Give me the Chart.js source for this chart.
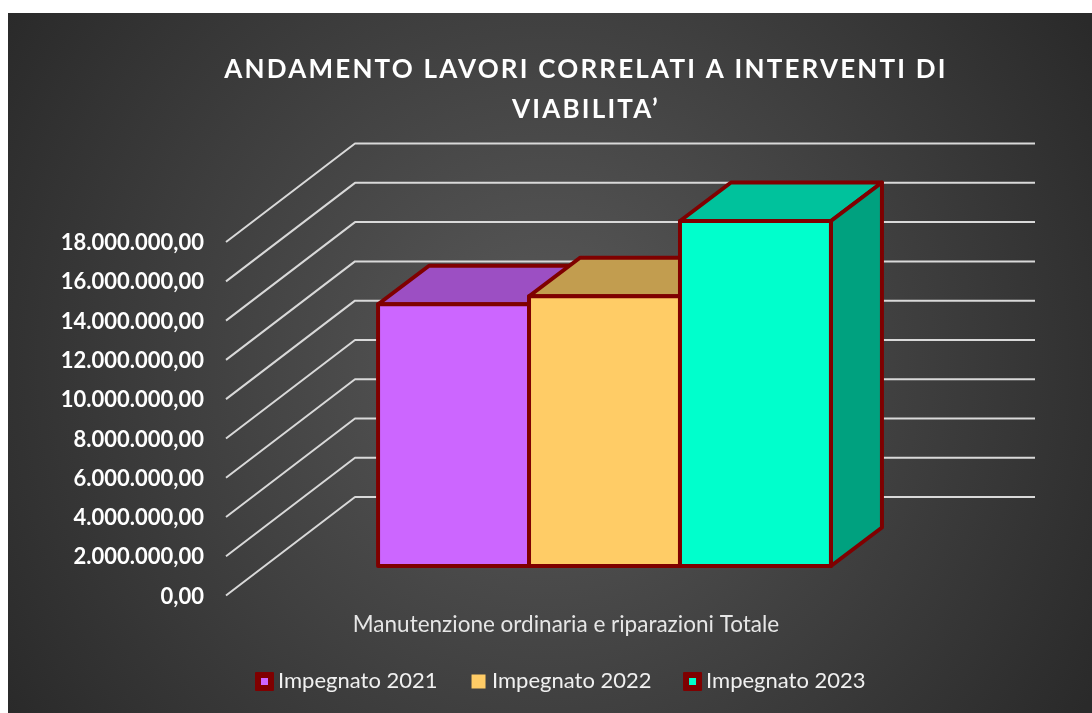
<!DOCTYPE html>
<html lang="it"><head><meta charset="utf-8"><title>Andamento lavori</title>
<style>html,body{margin:0;padding:0;background:#fff}canvas{display:block}</style>
<script src="https://cdn.jsdelivr.net/npm/chart.js@4/dist/chart.umd.min.js"></script></head>
<body><canvas id="c" width="1092" height="713"></canvas>
<script>
const titleLines = ["ANDAMENTO LAVORI CORRELATI A INTERVENTI DI", "VIABILITA’"];
const categories = ["Manutenzione ordinaria e riparazioni Totale"];
const seriesNames = ["Impegnato 2021", "Impegnato 2022", "Impegnato 2023"];
const impegnato2021 = [13330000];
const impegnato2022 = [13740000];
const impegnato2023 = [17570000];
const yTickLabels = ["0,00","2.000.000,00","4.000.000,00","6.000.000,00","8.000.000,00","10.000.000,00","12.000.000,00","14.000.000,00","16.000.000,00","18.000.000,00"];
const frontColors = ["#CC66FF", "#FFCC66", "#00FFCC"];
const topColors = ["#9C4FC3", "#C29D4F", "#00C29C"];
const sideColors = ["#8244A3", "#A28340", "#00A17F"];
const outline = "#7F0000";
const FONT = "Lato, Carlito, sans-serif";

const wall = {dx:129, dy:-98.5, right:1035};
const barShift = {dx:38.5, dy:-29.5};
const depth = {dx:51, dy:-38.5};
const legendShift = {x:183.5, y:-14.5};

function poly(ctx, pts, fill){
  ctx.beginPath();
  pts.forEach((p,i)=> i? ctx.lineTo(p[0],p[1]) : ctx.moveTo(p[0],p[1]));
  ctx.closePath();
  ctx.fillStyle = fill; ctx.fill(); ctx.stroke();
}

const scene = {
  id:"scene",
  beforeDraw(chart){
    const ctx = chart.ctx;
    ctx.save();
    ctx.fillStyle = "#fff"; ctx.fillRect(0,0,1092,713);
    const g = ctx.createRadialGradient(546,363,0,546,363,640);
    g.addColorStop(0,"#5a5a5a"); g.addColorStop(1,"#2a2a2a");
    ctx.fillStyle = g; ctx.fillRect(8,13,1084,700);
    ctx.restore();
    const tb = chart.titleBlock, lg = chart.legend, ys = chart.scales.y;
    if(!tb._patched){
      tb._patched = true;
      const orig = tb.draw;
      tb.draw = function(){
        ctx.save(); ctx.letterSpacing = "2.2px"; ctx.translate(113,1.5);
        orig.apply(this, arguments); ctx.restore();
      };
      const origL = lg.draw;
      lg.draw = function(){
        ctx.save(); ctx.translate(legendShift.x,legendShift.y);
        origL.apply(this, arguments); ctx.restore();
      };
      const origY = ys.drawLabels;
      ys.drawLabels = function(){
        ctx.save(); ctx.translate(0,1);
        origY.apply(this, arguments); ctx.restore();
      };
    }
  },
  beforeDatasetsDraw(chart){
    const ctx = chart.ctx, ys = chart.scales.y, area = chart.chartArea;
    ctx.save();
    ctx.strokeStyle = "#d9d9d9"; ctx.lineWidth = 2; ctx.lineJoin="round";
    ys.ticks.forEach(t=>{
      const y = ys.getPixelForValue(t.value);
      ctx.beginPath();
      ctx.moveTo(area.left,y);
      ctx.lineTo(area.left+wall.dx,y+wall.dy);
      ctx.lineTo(wall.right,y+wall.dy);
      ctx.stroke();
    });
    ctx.restore();
    ctx.save();
    ctx.translate(barShift.dx, barShift.dy);
    chart.data.datasets.forEach((ds,i)=>{
      const meta = chart.getDatasetMeta(i);
      meta.data.forEach(b=>{
        const l=b.x-b.width/2, r=b.x+b.width/2, t=b.y, bt=b.base;
        ctx.strokeStyle = outline; ctx.lineWidth = 4; ctx.lineJoin="round";
        poly(ctx,[[l,t],[l+depth.dx,t+depth.dy],[r+depth.dx,t+depth.dy],[r,t]],topColors[i]);
        poly(ctx,[[r,t],[r+depth.dx,t+depth.dy],[r+depth.dx,bt+depth.dy],[r,bt]],sideColors[i]);
      });
      meta.controller.draw();
      meta.data.forEach(b=>{
        ctx.strokeStyle = outline; ctx.lineWidth = 4; ctx.lineJoin="round";
        ctx.strokeRect(b.x-b.width/2,b.y,b.width,b.base-b.y);
      });
    });
    ctx.restore();
    return false;
  },
  afterDraw(chart){
    const ctx = chart.ctx;
    chart.legend.legendHitBoxes.forEach((h,i)=>{
      const cx = h.left+2.5+legendShift.x, cy = h.top+h.height/2+1+legendShift.y;
      ctx.save();
      if(i===1){
        ctx.fillStyle = frontColors[i]; ctx.fillRect(cx-7,cy-7,14,14);
      } else {
        ctx.fillStyle = outline; ctx.strokeStyle=outline; ctx.lineWidth=2; ctx.lineJoin="round";
        ctx.strokeRect(cx-8.5,cy-8.5,17,17); ctx.fillRect(cx-8.5,cy-8.5,17,17);
        ctx.fillStyle = frontColors[i]; ctx.fillRect(cx-3.5,cy-3.5,7,7);
      }
      ctx.restore();
    });
  }
};

new Chart(document.getElementById("c"),{
  type:"bar",
  data:{labels:categories,datasets:[
    {label:seriesNames[0],data:impegnato2021,backgroundColor:frontColors[0]},
    {label:seriesNames[1],data:impegnato2022,backgroundColor:frontColors[1]},
    {label:seriesNames[2],data:impegnato2023,backgroundColor:frontColors[2]}
  ]},
  options:{
    responsive:false,animation:false,
    categoryPercentage:0.666,barPercentage:1,borderWidth:0,
    layout:{padding:{left:40,right:186,top:0,bottom:-3}},
    plugins:{
      tooltip:{enabled:false},
      title:{display:true,text:titleLines,color:"#fff",
        font:{family:FONT,size:26,weight:"bold",lineHeight:1.54},
        padding:{top:48,bottom:114}},
      legend:{position:"bottom",align:"start",
        labels:{boxWidth:5,boxHeight:5,padding:38.5,color:"#f0f0f0",font:{family:FONT,size:22}}}
    },
    scales:{
      x:{grid:{display:false},border:{display:false},
        ticks:{color:"#e6e6e6",padding:8,font:{family:FONT,size:22.5},maxRotation:0},
        afterFit(s){s.height=50;}},
      y:{min:0,max:18000000,grid:{display:false},border:{display:false},
        ticks:{stepSize:2000000,color:"#fff",padding:14,font:{family:FONT,size:22,weight:"bold"},
          callback:(v)=>yTickLabels[Math.round(v/2000000)]},
        afterFit(s){s.width=186;}}
    }
  },
  plugins:[scene]
});
</script></body></html>
